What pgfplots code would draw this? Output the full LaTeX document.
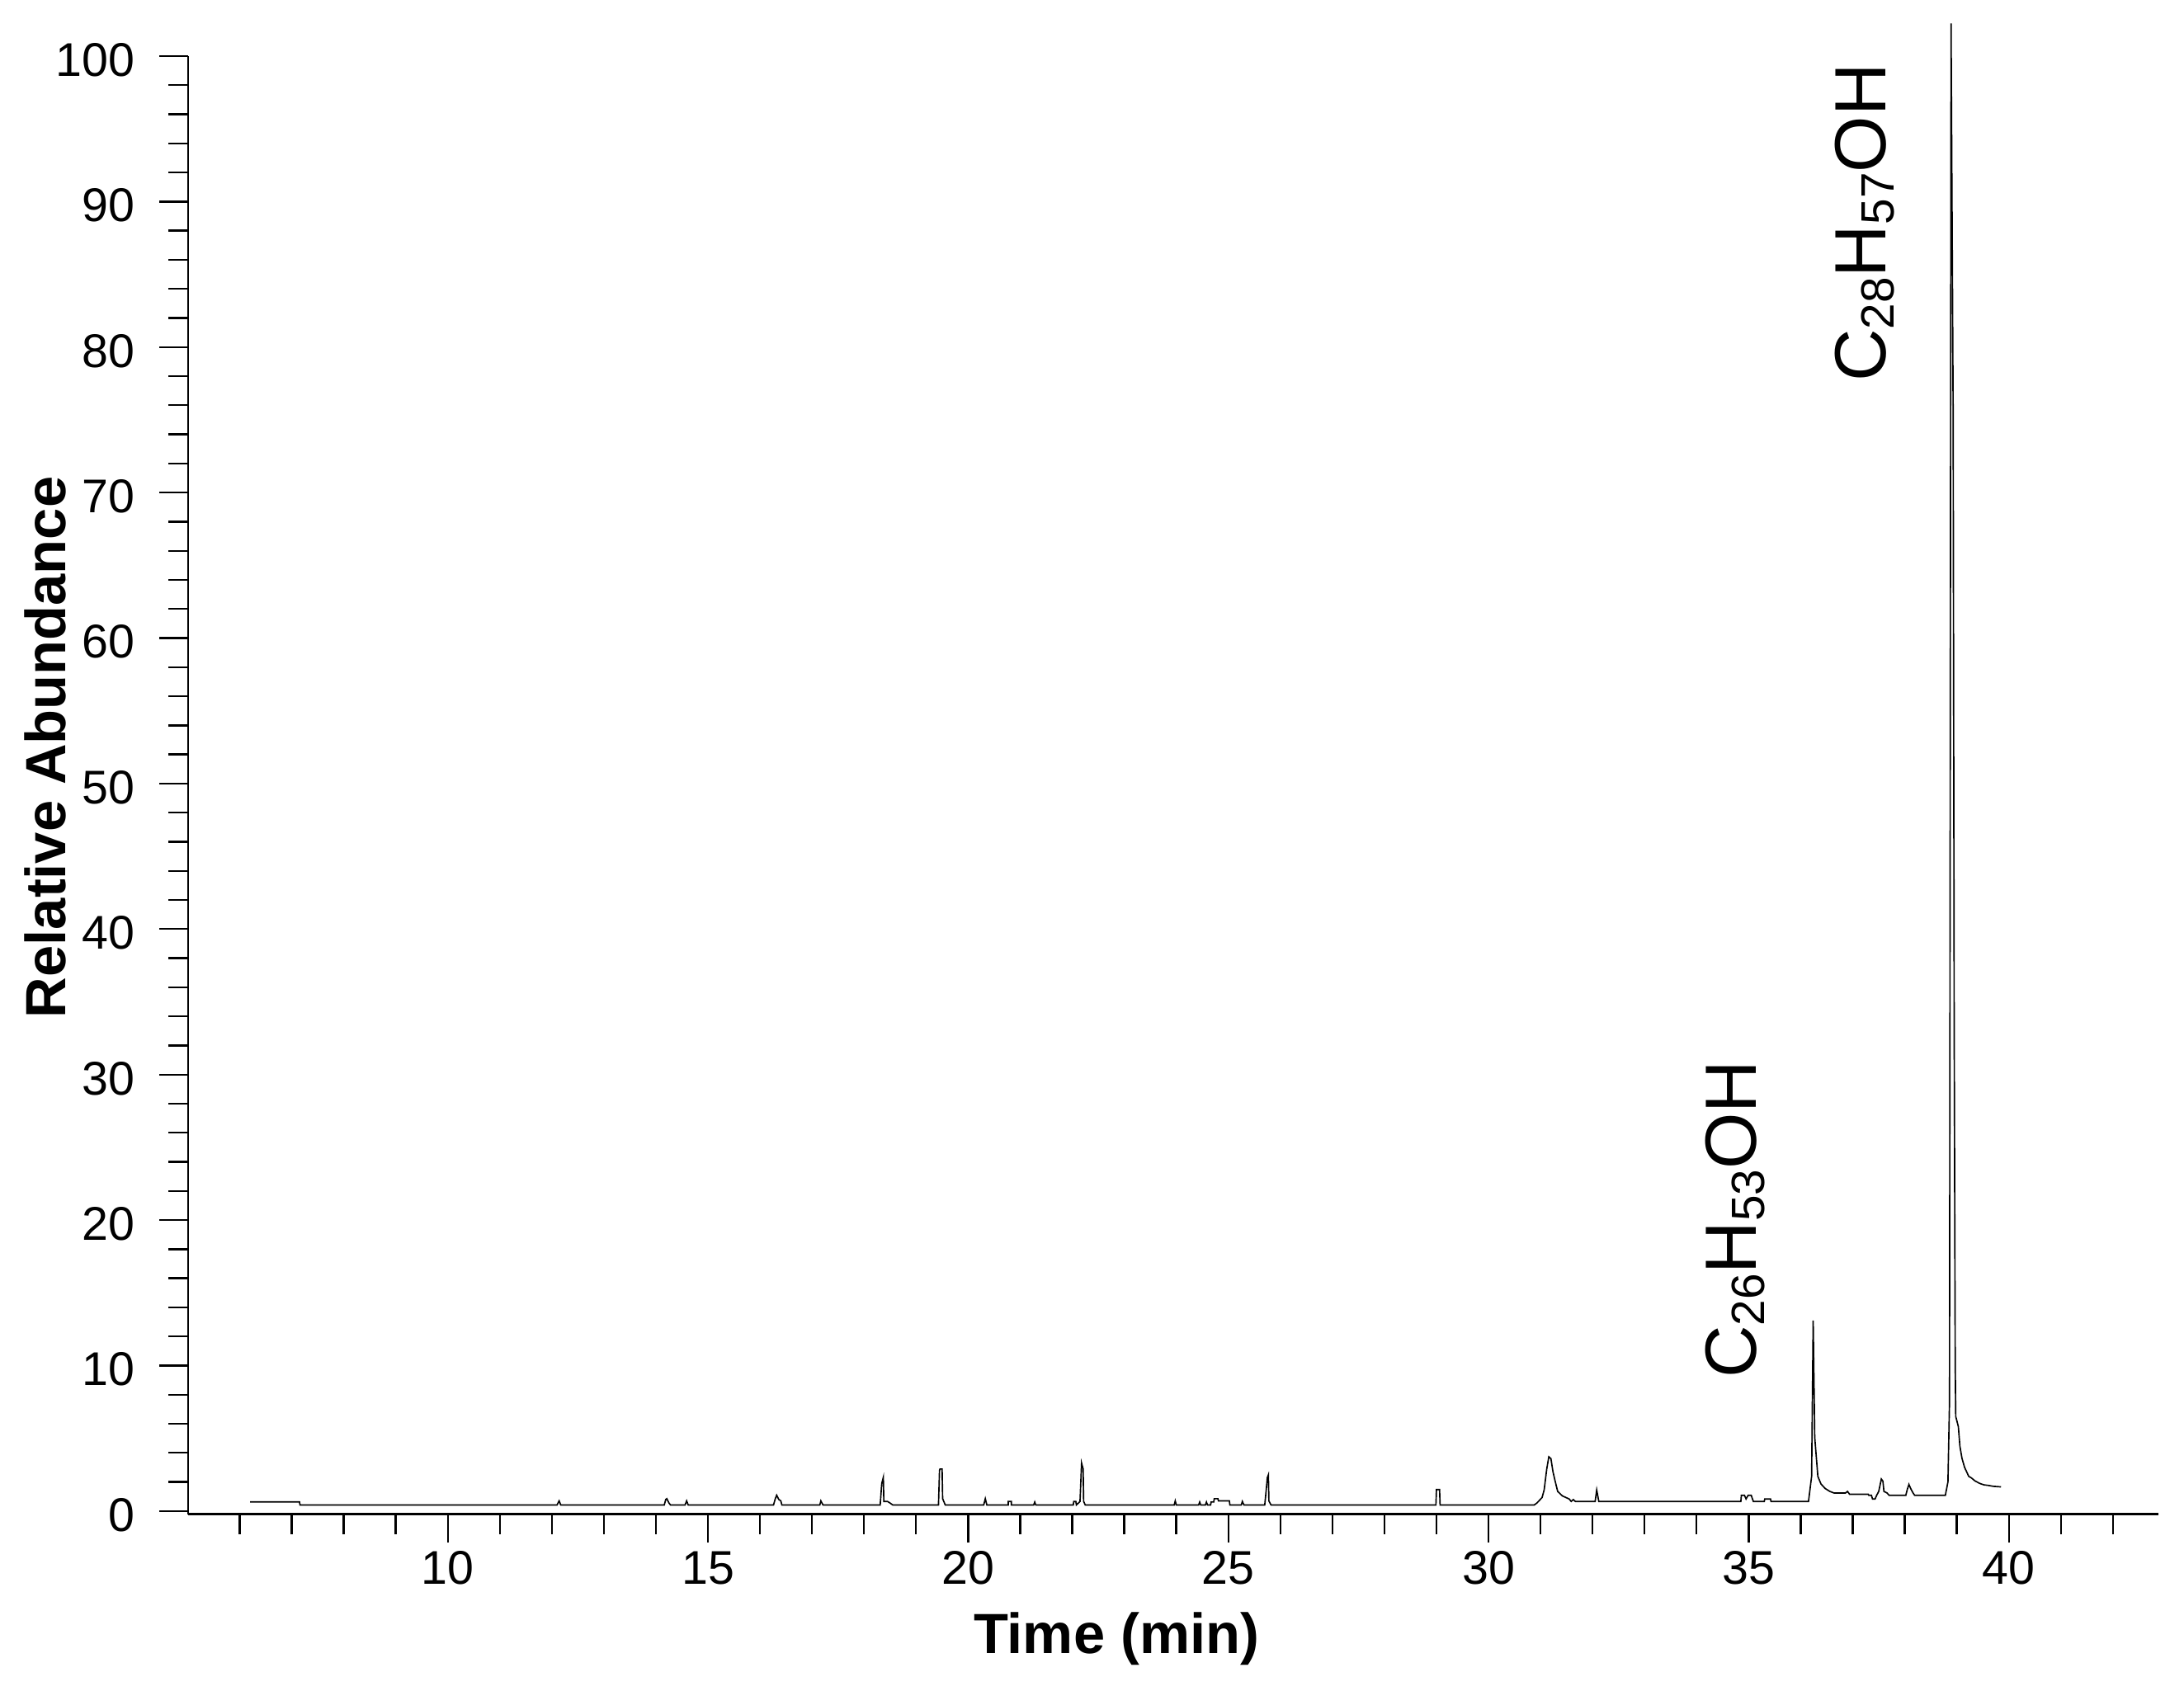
\documentclass[border=0pt]{standalone}
\usepackage{fontspec}
\setmainfont{Liberation Sans}
\usepackage{pgfplots}
\pgfplotsset{compat=1.18}
\newcommand\sub[1]{\raisebox{-1.5pt}{\fontsize{8.5}{9}\selectfont #1}}
\begin{document}
\begin{tikzpicture}
\path[use as bounding box] (-34.2pt,-32.1pt) rectangle (362.8pt,275.3pt);
\begin{axis}[
  scale only axis,
  width=358.2pt, height=265.1pt,
  xmin=5.01, xmax=42.88,
  ymin=-0.21, ymax=100,
  axis x line=bottom, axis y line=left,
  axis line style={-, line width=0.35pt},
  xtick={10,15,...,40},
  minor xtick={6,...,42},
  ytick={0,10,...,100},
  minor ytick={0,2,...,100},
  tick align=outside,
  major tick length=5.2pt, minor tick length=3.6pt,
  tick style={line width=0.35pt, black},
  tick label style={font=\fontsize{8.6}{10}\selectfont},
  /pgf/number format/assume math mode=true,
  xticklabel style={anchor=north, inner sep=0pt, yshift=-1.4pt},
  yticklabel style={anchor=east, inner sep=0pt, xshift=-4.3pt, yshift=-0.7pt},
  clip=false,
]
\addplot[black, line width=0.25pt] coordinates {
 (6.20,0.63)(7.15,0.63)(7.16,0.42)
 (12.10,0.42)(12.14,0.70)(12.17,0.42)
 (14.16,0.42)(14.19,0.80)(14.21,0.85)(14.25,0.55)(14.28,0.42)
 (14.56,0.42)(14.59,0.70)(14.62,0.42)
 (16.26,0.42)(16.29,0.80)(16.32,1.09)(16.36,0.80)(16.40,0.70)(16.42,0.42)
 (17.15,0.42)(17.17,0.70)(17.21,0.42)
 (18.31,0.42)(18.34,1.90)(18.37,2.31)(18.38,0.66)(18.45,0.66)(18.50,0.55)(18.55,0.42)
 (19.43,0.42)(19.45,2.80)(19.46,2.89)(19.50,2.89)(19.51,0.85)(19.56,0.42)
 (20.30,0.42)(20.33,0.85)(20.36,0.42)
 (20.77,0.42)(20.77,0.66)(20.83,0.66)(20.83,0.42)
 (21.26,0.42)(21.28,0.62)(21.30,0.42)
 (22.02,0.42)(22.03,0.66)(22.07,0.66)(22.08,0.42)(22.12,0.55)(22.15,0.66)(22.18,3.30)(22.21,2.90)(22.22,0.66)(22.25,0.42)
 (23.96,0.42)(23.98,0.70)(24.00,0.42)
 (24.43,0.42)(24.45,0.62)(24.47,0.42)(24.56,0.42)(24.58,0.62)(24.60,0.42)
 (24.66,0.42)(24.67,0.62)(24.72,0.62)(24.73,0.85)(24.80,0.85)(24.81,0.70)(25.02,0.70)(25.03,0.42)
 (25.25,0.42)(25.27,0.66)(25.30,0.42)
 (25.70,0.42)(25.73,1.50)(25.75,2.30)(25.77,2.49)(25.78,0.70)(25.82,0.42)
 (28.99,0.42)(29.00,1.48)(29.06,1.48)(29.07,0.42)
 (30.88,0.42)(30.93,0.55)(30.97,0.70)(31.03,0.93)(31.07,1.45)(31.12,2.90)(31.16,3.73)(31.20,3.60)
 (31.24,2.69)(31.28,2.07)(31.33,1.35)(31.42,1.04)(31.55,0.83)(31.59,0.66)(31.63,0.79)(31.67,0.66)
 (32.05,0.66)(32.08,1.45)(32.12,0.66)
 (34.85,0.66)(34.86,1.08)(34.92,1.08)(34.95,0.83)(34.99,1.08)(35.05,1.08)(35.09,0.66)
 (35.30,0.66)(35.31,0.83)(35.42,0.83)(35.43,0.66)
 (36.15,0.66)(36.21,2.38)(36.24,13.1)(36.27,5.07)(36.33,2.38)(36.39,1.86)(36.47,1.55)(36.56,1.35)
 (36.64,1.24)(36.86,1.24)(36.90,1.35)(36.94,1.15)(37.30,1.15)(37.31,1.08)(37.36,1.08)(37.38,0.83)
 (37.43,0.83)(37.46,1.08)(37.50,1.35)(37.55,2.20)(37.58,2.05)(37.60,1.35)(37.66,1.24)(37.70,1.08)
 (38.02,1.08)(38.05,1.50)(38.08,1.83)(38.12,1.50)(38.16,1.24)(38.19,1.08)
 (38.78,1.08)(38.83,2.00)(38.86,7.50)(38.89,102.25)(38.93,75.6)(38.95,33.0)(38.97,10.0)(38.98,6.50)
 (39.03,5.80)(39.06,4.45)(39.10,3.62)(39.15,3.00)(39.19,2.69)(39.23,2.38)(39.28,2.28)(39.35,2.07)
 (39.44,1.90)(39.52,1.80)(39.61,1.76)(39.70,1.70)(39.85,1.66)
};
\node[rotate=90, anchor=base, font=\fontsize{10.3}{12}\selectfont\bfseries]
  at (axis cs:2.66,52.5) {Relative Abundance};
\node[anchor=base, font=\fontsize{10.3}{12}\selectfont\bfseries]
  at (axis cs:22.85,-9.8) {Time (min)};
\node[rotate=90, anchor=base west, inner sep=0pt, font=\fontsize{13.2}{15}\selectfont]
  at (axis cs:35.15,9.05) {C\sub{26}H\sub{53}OH};
\node[rotate=90, anchor=base west, inner sep=0pt, font=\fontsize{13.2}{15}\selectfont]
  at (axis cs:37.63,77.55) {C\sub{28}H\sub{57}OH};
\end{axis}
\end{tikzpicture}
\end{document}
